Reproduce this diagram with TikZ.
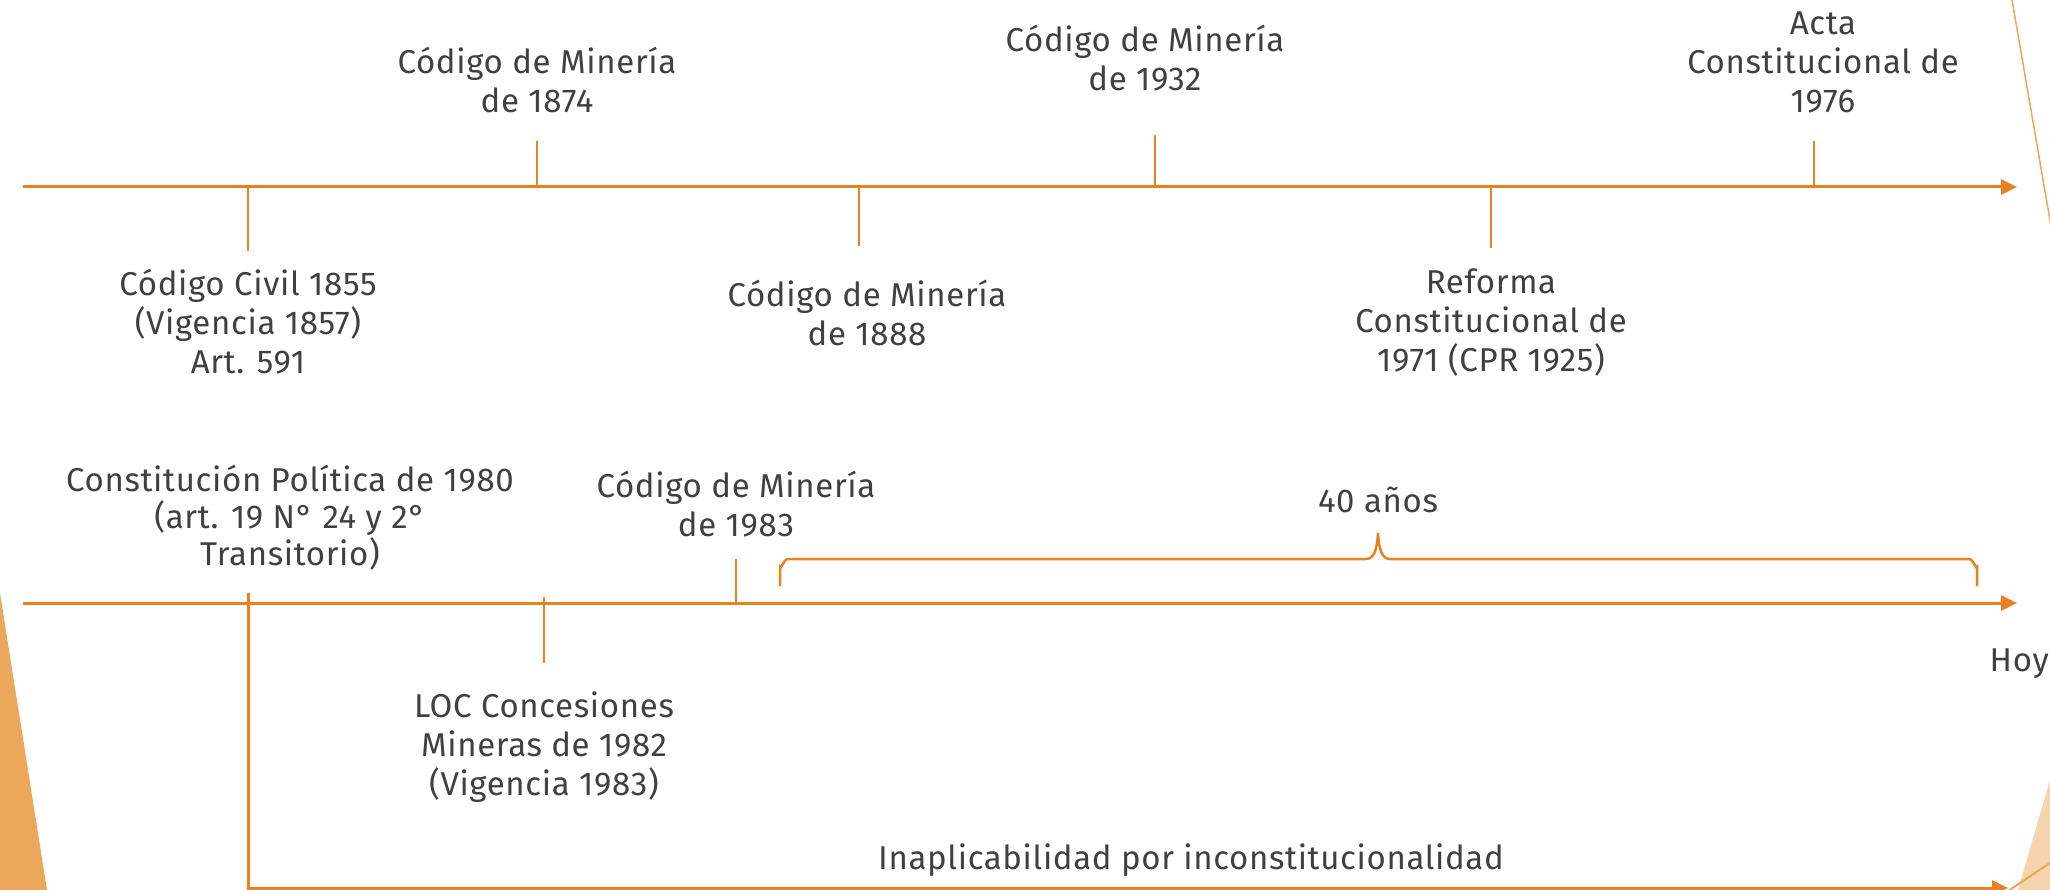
\documentclass[tikz,border=0pt]{standalone}
\usepackage{fontspec}
\setmainfont{Fira Sans}[LetterSpace=2]
\usetikzlibrary{arrows.meta}
\definecolor{lineor}{RGB}{232,130,30}
\definecolor{polyor}{RGB}{235,168,90}
\definecolor{lightor}{RGB}{246,213,174}
\definecolor{thinor}{RGB}{240,165,85}
\definecolor{txt}{RGB}{64,64,64}
\tikzset{
  tl/.style={draw=lineor, line width=3pt},
  tlarrow/.style={tl, -{Triangle[length=16pt,width=15pt]}},
  tick/.style={draw=lineor, line width=2.5pt},
  lbl/.style={text=txt, align=center, inner sep=0pt, font=\fontsize{33}{39}\selectfont},
}
\begin{document}
\begin{tikzpicture}[x=1pt,y=-1pt]
\useasboundingbox (0,0) rectangle (2050,890);
\clip (0,0) rectangle (2050,890);
% decorative shapes
\fill[polyor] (0,593) -- (47,890) -- (0,890) -- cycle;
\draw[thinor, line width=1.5pt] (2012,0) -- (2062,290);
\fill[lightor] (2050,780) -- (2018,890) -- (2050,890) -- cycle;
\draw[thinor, line width=2pt] (2050,863) -- (2005,893);

% coordinates
\coordinate (t0) at (23,187);
\coordinate (t1) at (2017,187);
\coordinate (m0) at (23,603);
\coordinate (m1) at (2017,603);
\coordinate (b0) at (248,593);
\coordinate (bc) at (248,888);
\coordinate (b1) at (2008,888);

% top timeline
\draw[tlarrow] (t0) -- (t1);
\coordinate (k1a) at (248,187); \coordinate (k1b) at (248,251);
\coordinate (k2a) at (537,141); \coordinate (k2b) at (537,187);
\coordinate (k3a) at (859,187); \coordinate (k3b) at (859,246);
\coordinate (k4a) at (1155,135); \coordinate (k4b) at (1155,187);
\coordinate (k5a) at (1491,187); \coordinate (k5b) at (1491,248);
\coordinate (k6a) at (1814,141); \coordinate (k6b) at (1814,187);
\foreach \k in {1,...,6} { \draw[tick] (k\k a) -- (k\k b); }

% middle timeline
\draw[tlarrow] (m0) -- (m1);
\coordinate (j1a) at (544,597); \coordinate (j1b) at (544,663);
\coordinate (j2a) at (736,559); \coordinate (j2b) at (736,603);
\draw[tick] (j1a) -- (j1b);
\draw[tick] (j2a) -- (j2b);

% bottom path
\draw[tlarrow] (b0) -- (bc) -- (b1);

% brace
\draw[draw=lineor, line width=2.5pt] (780,586) -- (780,567) to[out=-90,in=180] (788,559) -- (1366,559)
  .. controls (1374,559) and (1377,550) .. (1378,533)
  .. controls (1379,550) and (1382,559) .. (1390,559) -- (1969,559) to[out=0,in=-90] (1977,567) -- (1977,586);

% labels
\node[lbl] (n1874) at (537,80) {Código de Minería\\de 1874};
\node[lbl] (n1932) at (1145,58) {Código de Minería\\de 1932};
\node[lbl] (nActa) at (1823,62) {Acta\\Constitucional de\\1976};
\node[lbl] (nCivil) at (248,322) {Código Civil 1855\\(Vigencia 1857)\\Art. 591};
\node[lbl] (n1888) at (867,313) {Código de Minería\\de 1888};
\node[lbl] (nRef) at (1491,323) {Reforma\\Constitucional de\\1971 (CPR 1925)};
\node[lbl, font=\fontsize{33}{37}\selectfont] (nCPR) at (290,518) {Constitución Política de 1980\\(art. 19 N° 24 y 2°\\Transitorio)};
\node[lbl] (n1983) at (736,504) {Código de Minería\\de 1983};
\node[lbl] (n40) at (1378,500) {40 años};
\node[lbl, anchor=east] (nHoy) at (2049,664) {Hoy};
\node[lbl] (nLOC) at (544,747) {LOC Concesiones\\Mineras de 1982\\(Vigencia 1983)};
\node[lbl] (nInap) at (1191,860) {Inaplicabilidad por inconstitucionalidad};
\end{tikzpicture}
\end{document}
